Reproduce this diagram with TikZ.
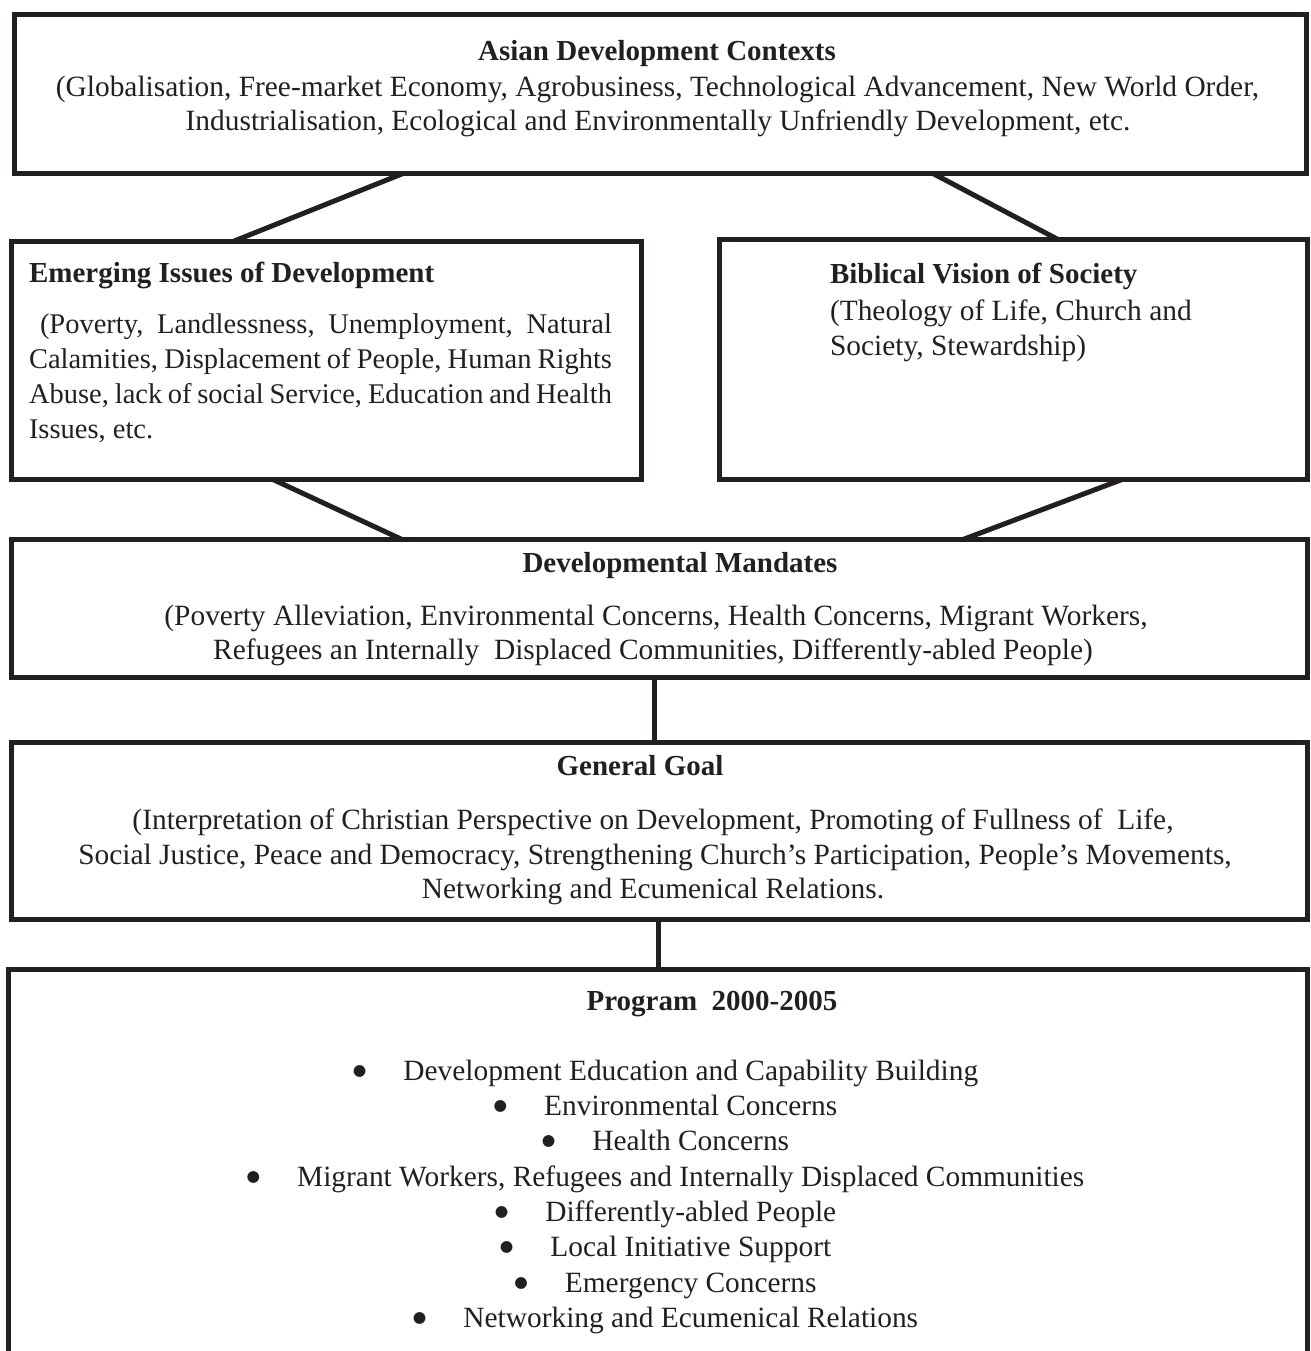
\documentclass[tikz,border=0pt]{standalone}
\usepackage{fontspec}
\setmainfont{Liberation Serif}
\newfontfamily\dejavu{DejaVu Sans}
\definecolor{ink}{HTML}{231F20}
\newcommand{\bigbul}{\hspace*{-1pt}\raisebox{4.5pt}{\dejavu\fontsize{15.5}{15.5}\selectfont ●}\hspace{37pt}}
\begin{document}
\begin{tikzpicture}[x=1pt,y=-1pt,
  box/.style={draw=ink,line width=5pt,inner sep=0pt,outer sep=0pt,anchor=north west},
  conn/.style={draw=ink,line width=5pt},
  txt/.style={text=ink,inner sep=0pt,outer sep=0pt,font=\fontsize{29.4}{35}\selectfont},
  txtn/.style={txt,font=\fontsize{28.5}{35}\selectfont},
  ttl/.style={txt,font=\fontsize{29}{35}\selectfont\bfseries}]
\useasboundingbox (0,0) rectangle (1310,1351);
\clip (0,0) rectangle (1310,1351);

% boxes
\node[box,minimum width=1291.5pt,minimum height=159pt] (top) at (14.5,14.5) {};
\node[box,minimum width=630.5pt,minimum height=238pt] (left) at (11,241.5) {};
\node[box,minimum width=587.5pt,minimum height=240pt] (right) at (719.5,239.5) {};
\node[box,minimum width=1296pt,minimum height=137.5pt] (mand) at (11,539.5) {};
\node[box,minimum width=1296pt,minimum height=177pt] (goal) at (11,742) {};
\node[box,minimum width=1299.5pt,minimum height=600pt] (prog) at (8,969) {};

% connectors
\draw[conn] ([xshift=388.5pt]top.south west) -- ([xshift=222pt]left.north west);
\draw[conn] ([xshift=918.5pt]top.south west) -- ([xshift=338.5pt]right.north west);
\draw[conn] ([xshift=262pt]left.south west) -- ([xshift=391pt]mand.north west);
\draw[conn] ([xshift=402.5pt]right.south west) -- ([xshift=952pt]mand.north west);
\draw[conn] ([xshift=643pt]mand.south west) -- ([xshift=643pt]goal.north west);
\draw[conn] ([xshift=647.5pt]goal.south west) -- ([xshift=650.5pt]prog.north west);

% top box text
\node[ttl,anchor=base] (t1) at (657,61) {Asian Development Contexts};
\node[txt,anchor=base] (t2) at (657.5,97) {(Globalisation, Free-market Economy, Agrobusiness, Technological Advancement, New World Order,};
\node[txt,anchor=base] (t3) at (658,131) {Industrialisation, Ecological and Environmentally Unfriendly Development, etc.};

% left box text
\node[ttl,anchor=base west] (l1) at (29,282) {Emerging Issues of Development};
\node[txtn,anchor=base west] (l2) at (40,333) {\makebox[572pt][s]{(Poverty, Landlessness, Unemployment, Natural}};
\node[txtn,anchor=base west] (l3) at (29,368) {\makebox[583pt][s]{Calamities, Displacement of People, Human Rights}};
\node[txtn,anchor=base west] (l4) at (29,403) {\makebox[583pt][s]{Abuse, lack of social Service, Education and Health}};
\node[txtn,anchor=base west] (l5) at (29,438) {Issues, etc.};

% right box text
\node[ttl,anchor=base west] (r1) at (830,283) {Biblical Vision of Society};
\node[txt,anchor=base west] (r2) at (830,320) {(Theology of Life, Church and};
\node[txt,anchor=base west] (r3) at (830,355) {Society, Stewardship)};

% mandates text
\node[ttl,anchor=base] (m1) at (680,572) {Developmental Mandates};
\node[txt,anchor=base] (m2) at (656,625) {(Poverty Alleviation, Environmental Concerns, Health Concerns, Migrant Workers,};
\node[txt,anchor=base] (m3) at (653,659) {Refugees an Internally~~Displaced Communities, Differently-abled People)};

% goal text
\node[ttl,anchor=base] (g1) at (640,775) {General Goal};
\node[txt,anchor=base] (g2) at (653,829) {(Interpretation of Christian Perspective on Development, Promoting of Fullness of~~Life,};
\node[txt,anchor=base] (g3) at (655,864) {Social Justice, Peace and Democracy, Strengthening Church’s Participation, People’s Movements,};
\node[txt,anchor=base] (g4) at (653,898) {Networking and Ecumenical Relations.};

% program text
\node[ttl,anchor=base] (p0) at (712,1010) {Program~~2000-2005};
\node[txt,anchor=base] (p1) at (666,1080) {\bigbul Development Education and Capability Building};
\node[txt,anchor=base] (p2) at (666,1115) {\bigbul Environmental Concerns};
\node[txt,anchor=base] (p3) at (666,1150) {\bigbul Health Concerns};
\node[txt,anchor=base] (p4) at (666,1186) {\bigbul Migrant Workers, Refugees and Internally Displaced Communities};
\node[txt,anchor=base] (p5) at (666,1221) {\bigbul Differently-abled People};
\node[txt,anchor=base] (p6) at (666,1256) {\bigbul Local Initiative Support};
\node[txt,anchor=base] (p7) at (666,1292) {\bigbul Emergency Concerns};
\node[txt,anchor=base] (p8) at (666,1327) {\bigbul Networking and Ecumenical Relations};
\end{tikzpicture}
\end{document}
